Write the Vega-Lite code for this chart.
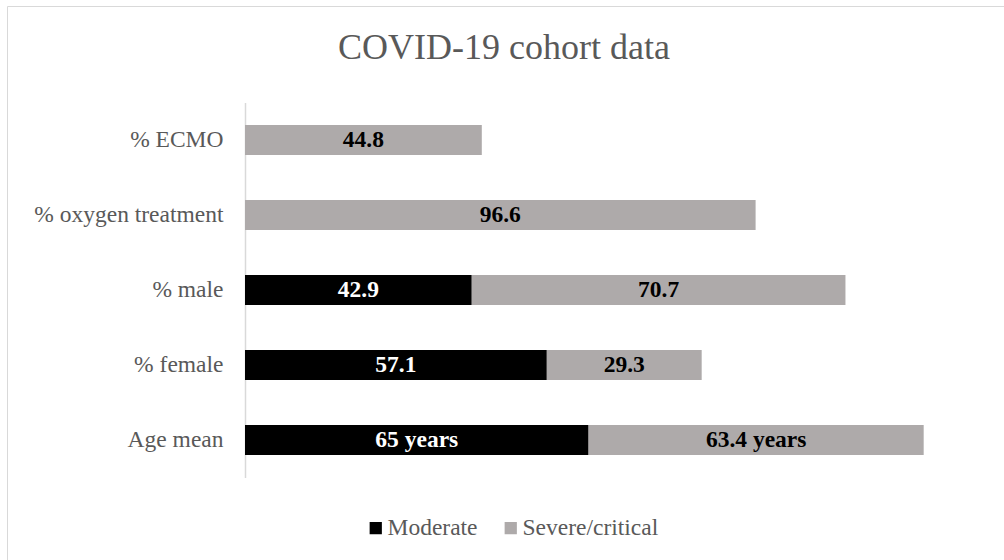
{
  "$schema": "https://vega.github.io/schema/vega-lite/v6.json",
  "width": 1000,
  "height": 560,
  "autosize": "none",
  "padding": {"left": 7, "top": 6, "right": 0, "bottom": 0},
  "background": "white",
  "config": {
    "view": {"stroke": "#D9D9D9", "strokeWidth": 1},
    "font": "Liberation Serif"
  },
  "title": {
    "text": "COVID-19 cohort data",
    "font": "Liberation Serif",
    "fontSize": 36,
    "fontWeight": "normal",
    "color": "#595959",
    "anchor": "middle",
    "frame": "group",
    "baseline": "middle",
    "dx": -3,
    "offset": -78
  },
  "data": {
    "values": [
      {"item": "% ECMO", "group": "Severe/critical", "value": 44.8, "label": "44.8"},
      {"item": "% oxygen treatment", "group": "Severe/critical", "value": 96.6, "label": "96.6"},
      {"item": "% male", "group": "Moderate", "value": 42.9, "label": "42.9"},
      {"item": "% male", "group": "Severe/critical", "value": 70.7, "label": "70.7"},
      {"item": "% female", "group": "Moderate", "value": 57.1, "label": "57.1"},
      {"item": "% female", "group": "Severe/critical", "value": 29.3, "label": "29.3"},
      {"item": "Age mean", "group": "Moderate", "value": 65, "label": "65 years"},
      {"item": "Age mean", "group": "Severe/critical", "value": 63.4, "label": "63.4 years"}
    ]
  },
  "transform": [
    {"stack": "value", "groupby": ["item"], "sort": [{"field": "group", "order": "ascending"}], "as": ["v0", "v1"]},
    {"calculate": "(datum.v0 + datum.v1) / 2", "as": "mid"}
  ],
  "encoding": {
    "y": {
      "field": "item",
      "type": "nominal",
      "sort": ["% ECMO", "% oxygen treatment", "% male", "% female", "Age mean"],
      "scale": {"range": [96.5, 471.5], "paddingInner": 0.6, "paddingOuter": 0.3},
      "axis": {
        "title": null,
        "offset": -238,
        "domainColor": "#D9D9D9",
        "domainWidth": 1.5,
        "ticks": false,
        "grid": false,
        "labelFont": "Liberation Serif",
        "labelFontSize": 23.5,
        "labelColor": "#595959",
        "labelPadding": 22,
        "labelLimit": 400
      }
    }
  },
  "layer": [
    {
      "mark": {"type": "bar"},
      "encoding": {
        "x": {"field": "v0", "type": "quantitative", "scale": {"domain": [0, 140], "range": [238, 978]}, "axis": null},
        "x2": {"field": "v1"},
        "color": {
          "field": "group",
          "type": "nominal",
          "scale": {"domain": ["Moderate", "Severe/critical"], "range": ["#000000", "#AEAAAA"]},
          "legend": {
            "title": null,
            "orient": "none",
            "legendX": 357,
            "legendY": 510,
            "direction": "horizontal",
            "symbolType": "square",
            "symbolSize": 150,
            "symbolStrokeWidth": 0,
            "labelFont": "Liberation Serif",
            "labelFontSize": 23.5,
            "labelColor": "#595959",
            "labelOffset": 0,
            "columnPadding": 21
          }
        }
      }
    },
    {
      "mark": {"type": "text", "font": "Liberation Serif", "fontSize": 23.5, "fontWeight": "bold", "baseline": "middle", "align": "center"},
      "encoding": {
        "x": {"field": "mid", "type": "quantitative", "scale": {"domain": [0, 140], "range": [238, 978]}},
        "text": {"field": "label"},
        "color": {
          "condition": {"test": "datum.group === 'Moderate'", "value": "#FFFFFF"},
          "value": "#000000"
        }
      }
    }
  ]
}
